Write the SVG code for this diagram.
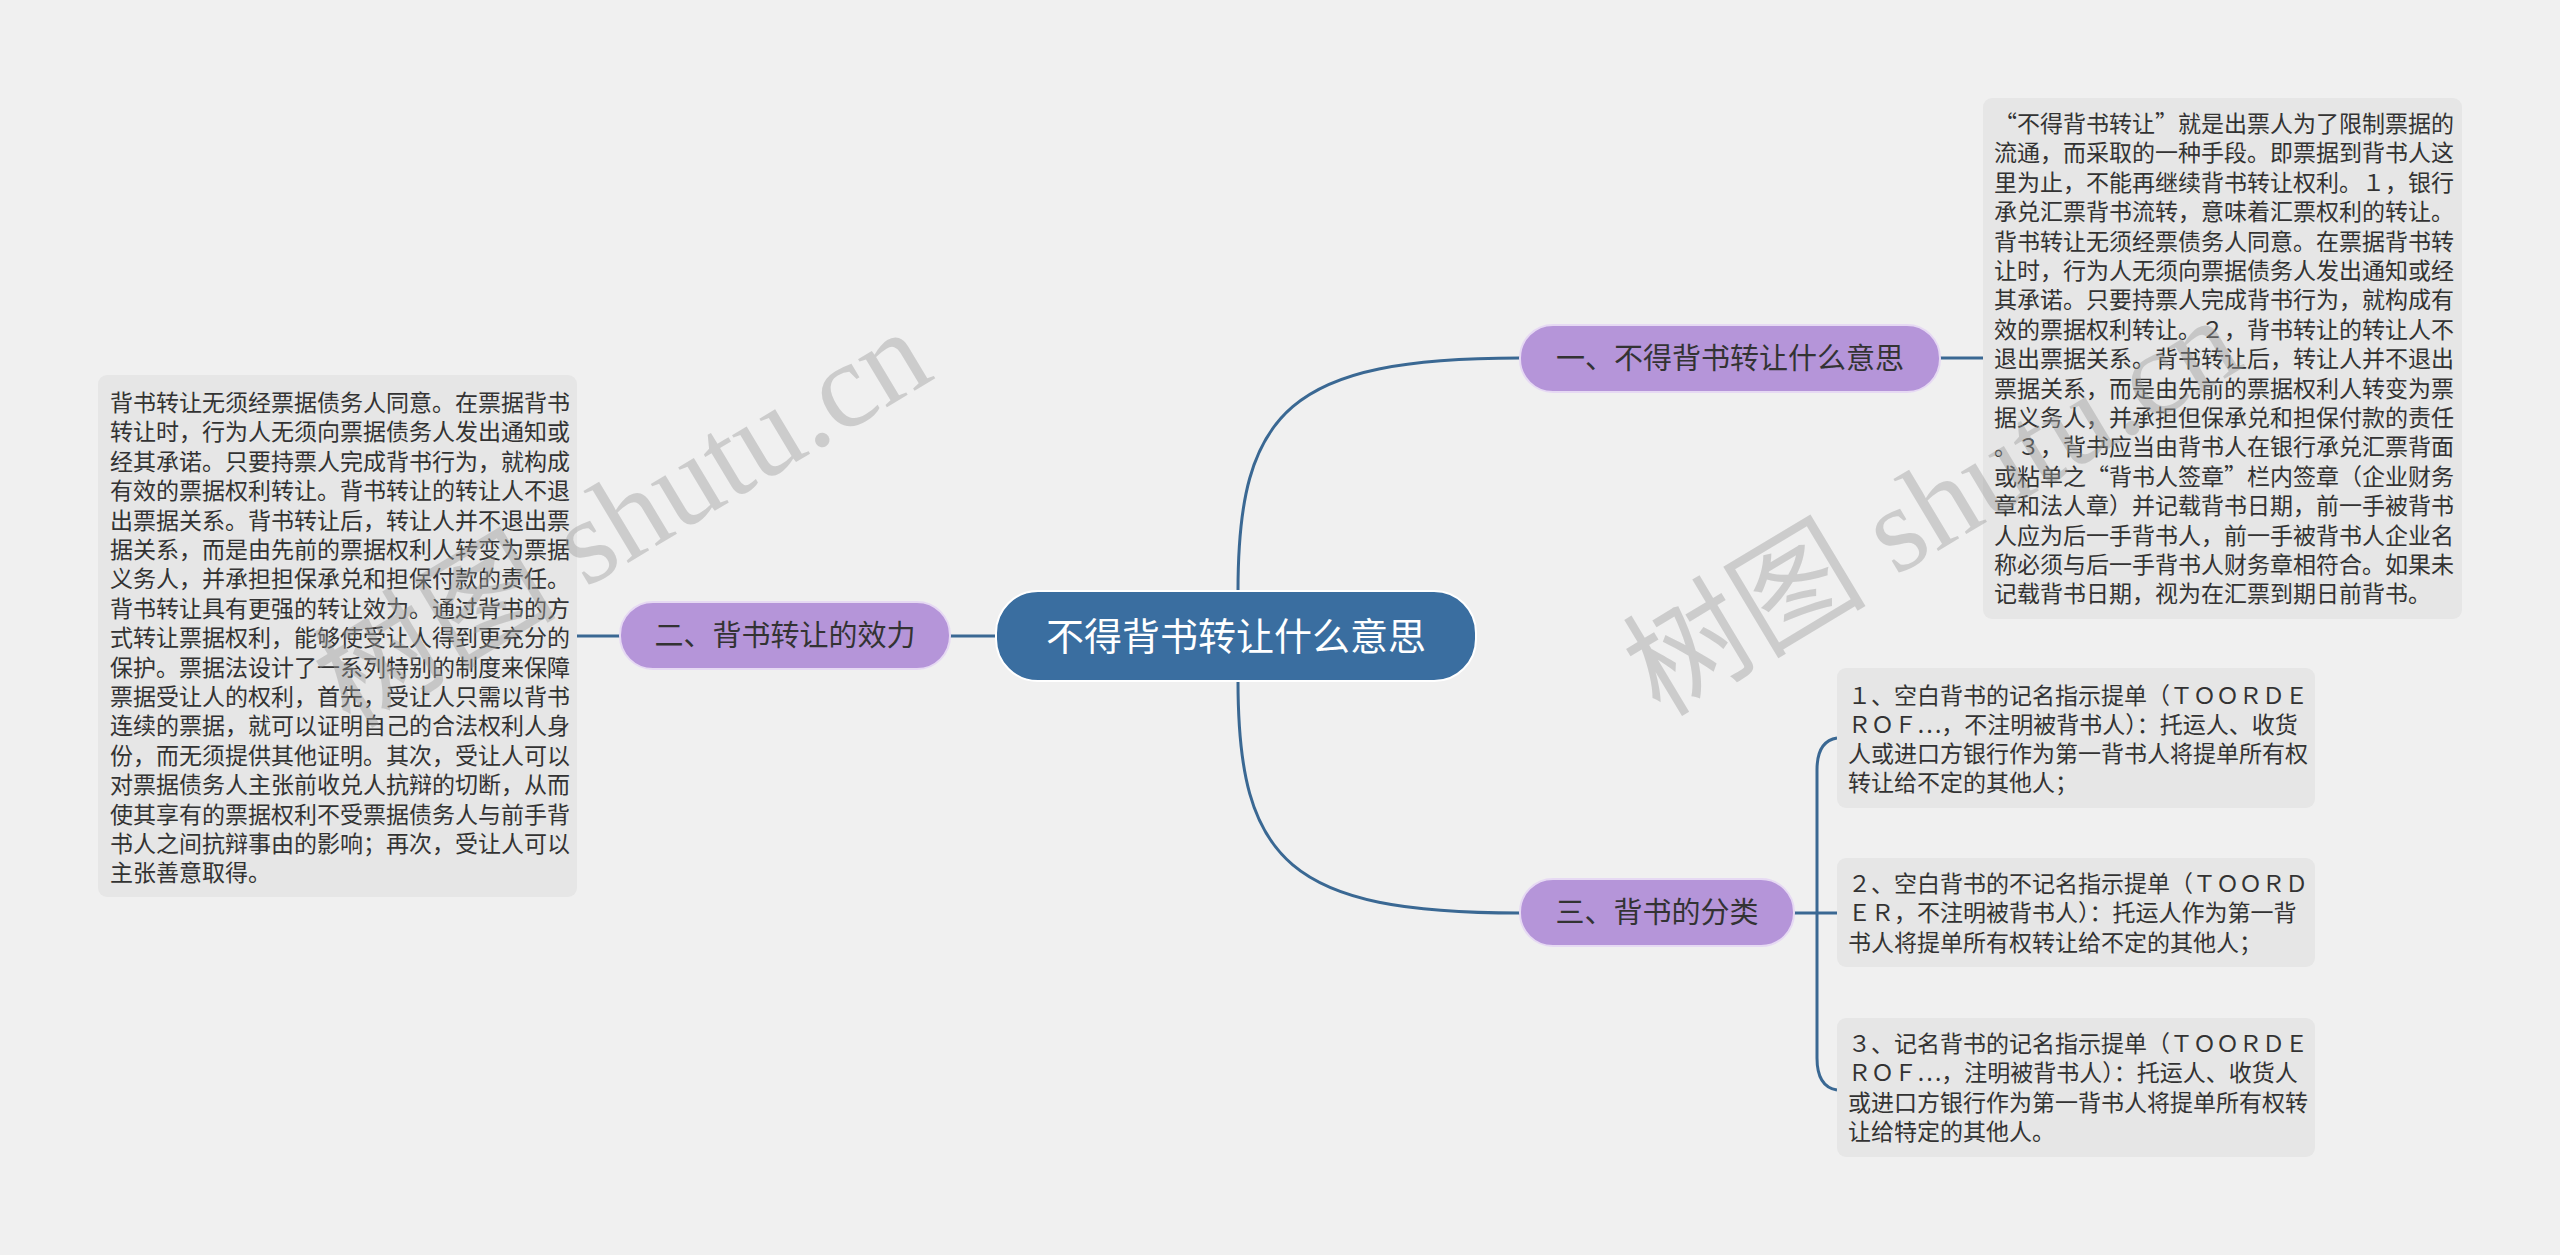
<svg xmlns="http://www.w3.org/2000/svg" width="2560" height="1255" viewBox="0 0 2560 1255">
<defs>
<style>
.bg{fill:#f0f0f0}
.conn{fill:none;stroke:#3a6893;stroke-width:3}
.root rect{fill:#3a6ea0;stroke:#ffffff;stroke-width:2}
.root text{fill:#ffffff;font-family:"Noto Sans CJK SC","Noto Sans",sans-serif;font-size:38px;text-anchor:middle}
.branch rect{fill:#b595d9;stroke:#e6d9f3;stroke-width:2}
.branch text{fill:#333333;font-family:"Noto Sans CJK SC","Noto Sans",sans-serif;font-size:29px;text-anchor:middle}
.leaf rect{fill:#e6e6e6}
.leaf text{fill:#333333;font-family:"Noto Sans CJK SC","Noto Sans",sans-serif;font-size:23px}
.wm{fill:#9a9a9a;fill-opacity:0.42;font-family:"Liberation Serif","Noto Sans CJK SC",serif;font-size:122px}
</style>
</defs>
<rect class="bg" x="0" y="0" width="2560" height="1255"/>

<g id="connectors">
<path class="conn" d="M1238,591 C1238,410 1290,358 1520,358"/>
<path class="conn" d="M1238,681 C1238,862 1290,913 1520,913"/>
<path class="conn" d="M996,636 L950,636"/>
<path class="conn" d="M1940,358 L1983,358"/>
<path class="conn" d="M620,636 L577,636"/>
<path class="conn" d="M1794,913 L1837,913"/>
<path class="conn" d="M1837,738 C1824,740 1817,750 1817,770 L1817,1058 C1817,1078 1824,1088 1837,1090"/>
</g>

<g id="root" class="root">
<rect x="996" y="591" width="480" height="90" rx="42" ry="42"/>
<text x="1236" y="650">不得背书转让什么意思</text>
</g>

<g id="branch1" class="branch">
<rect x="1520" y="325" width="420" height="67" rx="33" ry="33"/>
<text x="1730" y="369">一、不得背书转让什么意思</text>
</g>

<g id="branch2" class="branch">
<rect x="620" y="602" width="330" height="67" rx="33" ry="33"/>
<text x="785" y="646">二、背书转让的效力</text>
</g>

<g id="branch3" class="branch">
<rect x="1520" y="879" width="274" height="67" rx="33" ry="33"/>
<text x="1657" y="923">三、背书的分类</text>
</g>

<g id="leaf1" class="leaf">
<rect x="1983" y="98" width="479" height="521" rx="9" ry="9"/>
<text x="1994">
<tspan x="1994" y="132">“不得背书转让”就是出票人为了限制票据的</tspan>
<tspan x="1994" y="161.4">流通，而采取的一种手段。即票据到背书人这</tspan>
<tspan x="1994" y="190.8">里为止，不能再继续背书转让权利。１，银行</tspan>
<tspan x="1994" y="220.2">承兑汇票背书流转，意味着汇票权利的转让。</tspan>
<tspan x="1994" y="249.6">背书转让无须经票债务人同意。在票据背书转</tspan>
<tspan x="1994" y="279">让时，行为人无须向票据债务人发出通知或经</tspan>
<tspan x="1994" y="308.4">其承诺。只要持票人完成背书行为，就构成有</tspan>
<tspan x="1994" y="337.8">效的票据权利转让。２，背书转让的转让人不</tspan>
<tspan x="1994" y="367.2">退出票据关系。背书转让后，转让人并不退出</tspan>
<tspan x="1994" y="396.6">票据关系，而是由先前的票据权利人转变为票</tspan>
<tspan x="1994" y="426">据义务人，并承担但保承兑和担保付款的责任</tspan>
<tspan x="1994" y="455.4">。３，背书应当由背书人在银行承兑汇票背面</tspan>
<tspan x="1994" y="484.8">或粘单之“背书人签章”栏内签章（企业财务</tspan>
<tspan x="1994" y="514.2">章和法人章）并记载背书日期，前一手被背书</tspan>
<tspan x="1994" y="543.6">人应为后一手背书人，前一手被背书人企业名</tspan>
<tspan x="1994" y="573">称必须与后一手背书人财务章相符合。如果未</tspan>
<tspan x="1994" y="602.4">记载背书日期，视为在汇票到期日前背书。</tspan>
</text>
</g>

<g id="leaf2" class="leaf">
<rect x="98" y="375" width="479" height="522" rx="9" ry="9"/>
<text x="110">
<tspan x="110" y="411">背书转让无须经票据债务人同意。在票据背书</tspan>
<tspan x="110" y="440.4">转让时，行为人无须向票据债务人发出通知或</tspan>
<tspan x="110" y="469.8">经其承诺。只要持票人完成背书行为，就构成</tspan>
<tspan x="110" y="499.2">有效的票据权利转让。背书转让的转让人不退</tspan>
<tspan x="110" y="528.6">出票据关系。背书转让后，转让人并不退出票</tspan>
<tspan x="110" y="558">据关系，而是由先前的票据权利人转变为票据</tspan>
<tspan x="110" y="587.4">义务人，并承担担保承兑和担保付款的责任。</tspan>
<tspan x="110" y="616.8">背书转让具有更强的转让效力。通过背书的方</tspan>
<tspan x="110" y="646.2">式转让票据权利，能够使受让人得到更充分的</tspan>
<tspan x="110" y="675.6">保护。票据法设计了一系列特别的制度来保障</tspan>
<tspan x="110" y="705">票据受让人的权利，首先，受让人只需以背书</tspan>
<tspan x="110" y="734.4">连续的票据，就可以证明自己的合法权利人身</tspan>
<tspan x="110" y="763.8">份，而无须提供其他证明。其次，受让人可以</tspan>
<tspan x="110" y="793.2">对票据债务人主张前收兑人抗辩的切断，从而</tspan>
<tspan x="110" y="822.6">使其享有的票据权利不受票据债务人与前手背</tspan>
<tspan x="110" y="852">书人之间抗辩事由的影响；再次，受让人可以</tspan>
<tspan x="110" y="881.4">主张善意取得。</tspan>
</text>
</g>

<g id="leaf3a" class="leaf">
<rect x="1837" y="668" width="478" height="140" rx="9" ry="9"/>
<text x="1848">
<tspan x="1848" y="704">１、空白背书的记名指示提单（ＴＯＯＲＤＥ</tspan>
<tspan x="1848" y="733">ＲＯＦ…，不注明被背书人）：托运人、收货</tspan>
<tspan x="1848" y="762">人或进口方银行作为第一背书人将提单所有权</tspan>
<tspan x="1848" y="791">转让给不定的其他人；</tspan>
</text>
</g>

<g id="leaf3b" class="leaf">
<rect x="1837" y="858" width="478" height="109" rx="9" ry="9"/>
<text x="1848">
<tspan x="1848" y="892">２、空白背书的不记名指示提单（ＴＯＯＲＤ</tspan>
<tspan x="1848" y="921.4">ＥＲ，不注明被背书人）：托运人作为第一背</tspan>
<tspan x="1848" y="950.8">书人将提单所有权转让给不定的其他人；</tspan>
</text>
</g>

<g id="leaf3c" class="leaf">
<rect x="1837" y="1018" width="478" height="139" rx="9" ry="9"/>
<text x="1848">
<tspan x="1848" y="1052">３、记名背书的记名指示提单（ＴＯＯＲＤＥ</tspan>
<tspan x="1848" y="1081.4">ＲＯＦ…，注明被背书人）：托运人、收货人</tspan>
<tspan x="1848" y="1110.8">或进口方银行作为第一背书人将提单所有权转</tspan>
<tspan x="1848" y="1140.2">让给特定的其他人。</tspan>
</text>
</g>

<g id="watermarks">
<text class="wm" x="350" y="730" transform="rotate(-31 350 730)">树图 shutu.cn</text>
<text class="wm" x="1660" y="718" transform="rotate(-31 1660 718)">树图 shutu.cn</text>
</g>
</svg>
